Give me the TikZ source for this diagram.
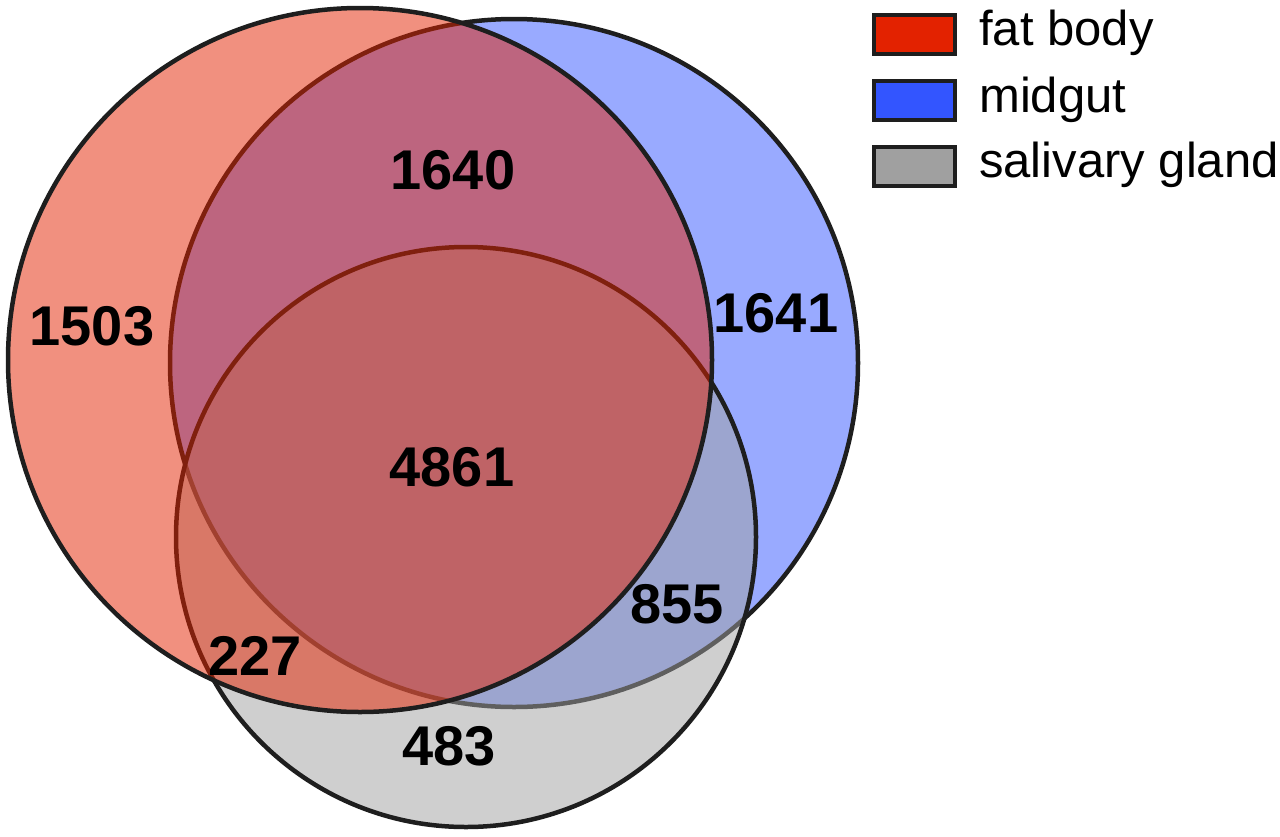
\documentclass[tikz,border=0pt]{standalone}
\usepackage{fontspec}
\setmainfont{Liberation Sans}
\definecolor{fatred}{RGB}{227,34,0}
\definecolor{midblue}{RGB}{51,85,255}
\definecolor{salgray}{RGB}{160,160,160}
\definecolor{edge}{RGB}{30,30,30}
\begin{document}
\begin{tikzpicture}[x=1pt,y=-1pt,
  venn/.style={line width=4.5pt, draw=edge, fill opacity=0.5},
  num/.style={font=\fontsize{56}{60}\selectfont\bfseries, inner sep=0pt},
  legbox/.style={draw=edge, line width=4pt, minimum width=81pt, minimum height=39pt, inner sep=0pt},
  legtext/.style={font=\fontsize{49}{56}\selectfont, anchor=base west, inner sep=0pt}]
\useasboundingbox (0,0) rectangle (1280,836);
% circles: blue bottom, gray middle, red top
\draw[venn, fill=midblue] (514,363) circle[radius=344pt];
\draw[venn, fill=salgray] (466,537) circle[radius=290pt];
\draw[venn, fill=fatred] (360,360) circle[radius=352pt];
% counts
\node[num] (n1503) at (92,326) {1503};
\node[num] (n1640) at (453,170) {1640};
\node[num] (n1641) at (776,313) {1641};
\node[num] (n4861) at (452,467) {4861};
\node[num] (n855) at (677,604) {855};
\node[num] (n227) at (255,656) {227};
\node[num] (n483) at (449,746) {483};
% legend
\node[legbox, fill=fatred] (lfat) at (914.5,34.5) {};
\node[legbox, fill=midblue] (lmid) at (914.5,100.5) {};
\node[legbox, fill=salgray] (lsal) at (914.5,166) {};
\node[legtext] (tfat) at (979,45) {fat body};
\node[legtext] (tmid) at (979,112) {midgut};
\node[legtext] (tsal) at (979,177) {salivary gland};
\end{tikzpicture}
\end{document}
